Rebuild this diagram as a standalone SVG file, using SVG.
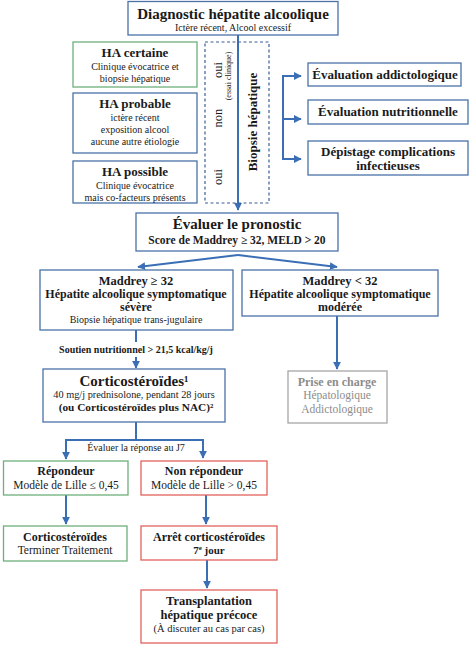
<svg xmlns="http://www.w3.org/2000/svg" width="472" height="645" viewBox="0 0 472 645">
<defs>
<style>
text{font-family:"Liberation Serif","Times New Roman",serif;fill:#1a1a1a;text-anchor:middle}
.b{font-weight:bold}
.box{fill:#fff;stroke:#4a72a8;stroke-width:1.3}
.g{fill:#fff;stroke:#6db07c;stroke-width:1.3}
.r{fill:#fff;stroke:#e2625c;stroke-width:1.3}
.gr{fill:#fff;stroke:#a6a6a6;stroke-width:1.3}
.dash{fill:none;stroke:#3d5f96;stroke-width:1.2;stroke-dasharray:3,2.5}
.c{fill:none;stroke:#3a6fb5;stroke-width:2}
.gt{fill:#8c8c8c}
</style>
<marker id="ah" viewBox="0 0 10 10" refX="9" refY="5" markerWidth="4" markerHeight="4" orient="auto" markerUnits="strokeWidth">
<path d="M0,0L10,5L0,10z" fill="#3a6fb5"/>
</marker>
</defs>
<rect width="472" height="645" fill="#fff"/>

<g id="connectors">
<line class="c" x1="238" y1="35" x2="238" y2="210" marker-end="url(#ah)"/>
<polyline class="c" points="301,76 283,76 283,159 301,159" marker-end="url(#ah)"/>
<line class="c" x1="283" y1="76" x2="301" y2="76" marker-end="url(#ah)"/>
<line class="c" x1="283" y1="119" x2="301" y2="119" marker-end="url(#ah)"/>
<line class="c" x1="238" y1="255" x2="138" y2="267" marker-end="url(#ah)"/>
<line class="c" x1="238" y1="255" x2="337" y2="267" marker-end="url(#ah)"/>
<line class="c" x1="136" y1="330" x2="136" y2="342"/>
<line class="c" x1="136" y1="357" x2="136" y2="368" marker-end="url(#ah)"/>
<line class="c" x1="337" y1="316" x2="337" y2="369" marker-end="url(#ah)"/>
<line class="c" x1="136" y1="422" x2="136" y2="440"/>
<polyline class="c" points="66,458 66,440 203,440 203,458" marker-end="url(#ah)"/>
<line class="c" x1="66" y1="440" x2="66" y2="459" marker-end="url(#ah)"/>
<line class="c" x1="66" y1="495" x2="66" y2="524" marker-end="url(#ah)"/>
<line class="c" x1="206" y1="495" x2="206" y2="524" marker-end="url(#ah)"/>
<line class="c" x1="207" y1="560" x2="207" y2="588" marker-end="url(#ah)"/>
</g>

<g id="diagnostic">
<rect class="box" x="128" y="1.5" width="210" height="33.5"/>
<text class="b" x="233" y="19" font-size="15">Diagnostic hépatite alcoolique</text>
<text x="233" y="31" font-size="10">Ictère récent, Alcool excessif</text>
</g>

<g id="ha-certaine">
<rect class="g" x="73" y="42" width="124" height="45"/>
<text class="b" x="135" y="57" font-size="13">HA certaine</text>
<text x="135" y="70" font-size="10">Clinique évocatrice et</text>
<text x="135" y="82" font-size="10">biopsie hépatique</text>
</g>

<g id="ha-probable">
<rect class="box" x="73" y="93" width="124" height="60"/>
<text class="b" x="135" y="108" font-size="13">HA probable</text>
<text x="135" y="121" font-size="10">ictère récent</text>
<text x="135" y="133" font-size="10">exposition alcool</text>
<text x="135" y="145" font-size="10">aucune autre étiologie</text>
</g>

<g id="ha-possible">
<rect class="box" x="73" y="161" width="124" height="42"/>
<text class="b" x="135" y="176" font-size="13">HA possible</text>
<text x="135" y="189" font-size="10">Clinique évocatrice</text>
<text x="135" y="201" font-size="10">mais co-facteurs présents</text>
</g>

<g id="biopsie">
<rect class="dash" x="205" y="42" width="64" height="161"/>
<text font-size="12.5" transform="translate(221.5,70) rotate(-90)">oui</text>
<text font-size="8" transform="translate(231,76) rotate(-90)">(essai clinique)</text>
<text font-size="12.5" transform="translate(221.5,118) rotate(-90)">non</text>
<text font-size="12.5" transform="translate(221.5,177) rotate(-90)">oui</text>
<text class="b" font-size="13" transform="translate(256.5,122) rotate(-90)">Biopsie hépatique</text>
</g>

<g id="eval-addicto">
<rect class="box" x="308" y="63" width="153" height="23"/>
<text class="b" x="385" y="79" font-size="13">Évaluation addictologique</text>
</g>

<g id="eval-nutri">
<rect class="box" x="308" y="100" width="160" height="24"/>
<text class="b" x="388" y="116" font-size="13">Évaluation nutritionnelle</text>
</g>

<g id="depistage">
<rect class="box" x="308" y="141" width="160" height="34"/>
<text class="b" x="388" y="156" font-size="13">Dépistage complications</text>
<text class="b" x="388" y="170" font-size="13">infectieuses</text>
</g>

<g id="pronostic">
<rect class="box" x="136" y="213" width="202" height="38"/>
<text class="b" x="237" y="229" font-size="15">Évaluer le pronostic</text>
<text class="b" x="237" y="244" font-size="11.5">Score de Maddrey ≥ 32, MELD &gt; 20</text>
</g>

<g id="maddrey-sup">
<rect class="box" x="40" y="270" width="193" height="60"/>
<text class="b" x="136" y="285" font-size="12.5">Maddrey ≥ 32</text>
<text class="b" x="136" y="298" font-size="12">Hépatite alcoolique symptomatique</text>
<text class="b" x="136" y="311" font-size="12">sévère</text>
<text x="136" y="323" font-size="10">Biopsie hépatique trans-jugulaire</text>
</g>

<g id="maddrey-inf">
<rect class="box" x="242" y="270" width="196" height="46"/>
<text class="b" x="340" y="285" font-size="12.5">Maddrey &lt; 32</text>
<text class="b" x="340" y="298" font-size="12">Hépatite alcoolique symptomatique</text>
<text class="b" x="340" y="311" font-size="12">modérée</text>
</g>

<g id="soutien-label">
<text class="b" x="136" y="353" font-size="10">Soutien nutritionnel &gt; 21,5 kcal/kg/j</text>
</g>

<g id="corticosteroides">
<rect class="box" x="43" y="369" width="182" height="53"/>
<text class="b" x="134" y="386" font-size="15">Corticostéroïdes¹</text>
<text x="134" y="398" font-size="10.3">40 mg/j prednisolone, pendant 28 jours</text>
<text class="b" x="136" y="411" font-size="11.3">(ou Corticostéroïdes plus NAC)²</text>
</g>

<g id="prise-en-charge">
<rect class="gr" x="288" y="371" width="99" height="52"/>
<text class="b gt" x="337" y="386" font-size="12">Prise en charge</text>
<text class="gt" x="337" y="399" font-size="11.5">Hépatologique</text>
<text class="gt" x="337" y="413" font-size="11.5">Addictologique</text>
</g>

<g id="reponse-label">
<text x="136" y="451" font-size="10">Évaluer la réponse au J7</text>
</g>

<g id="repondeur">
<rect class="g" x="3.5" y="461" width="124.5" height="34"/>
<text class="b" x="66" y="475" font-size="12">Répondeur</text>
<text x="66" y="489" font-size="11.5">Modèle de Lille ≤ 0,45</text>
</g>

<g id="non-repondeur">
<rect class="r" x="141" y="461" width="126" height="34"/>
<text class="b" x="204" y="475" font-size="12">Non répondeur</text>
<text x="204" y="489" font-size="11.5">Modèle de Lille &gt; 0,45</text>
</g>

<g id="cortico-terminer">
<rect class="g" x="3.5" y="526" width="123.5" height="35"/>
<text class="b" x="65" y="541" font-size="12">Corticostéroïdes</text>
<text x="65" y="554" font-size="11.5">Terminer Traitement</text>
</g>

<g id="arret">
<rect class="r" x="141" y="526" width="136" height="34"/>
<text class="b" x="209" y="541" font-size="12">Arrêt corticostéroïdes</text>
<text class="b" x="209" y="554" font-size="11">7<tspan font-size="7" dy="-4">e</tspan><tspan dy="4"> jour</tspan></text>
</g>

<g id="transplantation">
<rect class="r" x="141" y="590" width="136" height="53"/>
<text class="b" x="209" y="605" font-size="12.5">Transplantation</text>
<text class="b" x="209" y="619" font-size="12.5">hépatique précoce</text>
<text x="209" y="632" font-size="10.5">(À discuter au cas par cas)</text>
</g>
</svg>
